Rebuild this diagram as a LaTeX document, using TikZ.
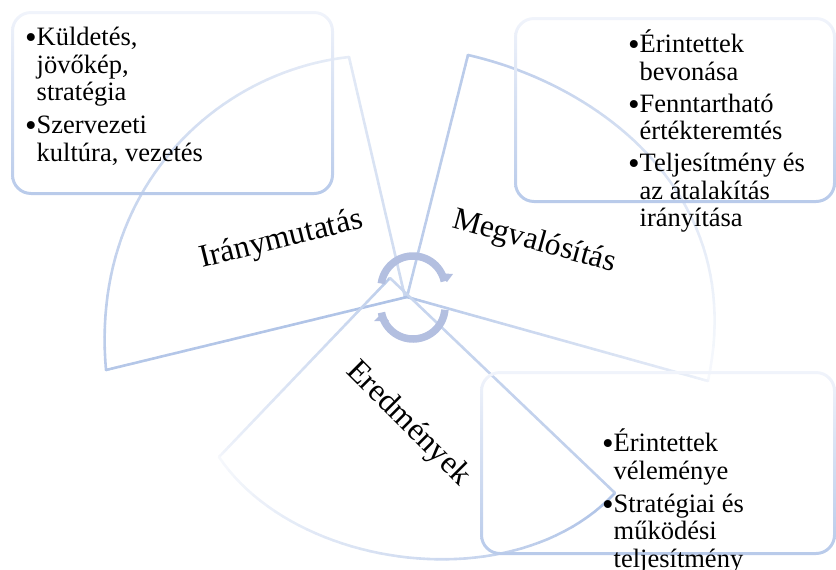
\documentclass[tikz,border=0pt]{standalone}
\usepackage{fontspec}
\setmainfont{Liberation Serif}
\definecolor{secblue}{HTML}{AEC2E6}
\definecolor{arrowblue}{HTML}{B3BFE0}
\definecolor{boxtop}{HTML}{F1F4FB}
\definecolor{boxmid}{HTML}{D3DEF2}
\definecolor{boxbot}{HTML}{B8CAEA}
\newcommand\bodyfont{\fontsize{26.5}{27.5}\selectfont}
\newcommand\bul{\makebox[11.5pt][l]{\raisebox{-2.6pt}{\scalebox{1.25}{\textbullet}}}}
\newcommand\con{\hspace*{11.5pt}}
% gradient-stroked cubic: 8 coordinates, start %, end %
\newcommand\gradcurve[2]{\gradcurveB#1;#2;}
\def\gradcurveB#1,#2,#3,#4,#5,#6,#7,#8;#9;{%
  \def\gcA{#1}\def\gcB{#2}\def\gcC{#3}\def\gcD{#4}\def\gcE{#5}\def\gcF{#6}\def\gcG{#7}\def\gcH{#8}%
  \gradcurveE#9;}
\def\gradcurveE#1,#2;{%
  \foreach \i in {1,...,48}{%
    \pgfmathsetmacro\ta{(\i-1)/48}\pgfmathsetmacro\tb{\i/48}%
    \pgfmathsetmacro\pc{#1+(#2-#1)*(\i-0.5)/48}%
    \pgfmathsetmacro\xa{(1-\ta)^3*\gcA+3*(1-\ta)^2*\ta*\gcC+3*(1-\ta)*\ta^2*\gcE+\ta^3*\gcG}%
    \pgfmathsetmacro\ya{(1-\ta)^3*\gcB+3*(1-\ta)^2*\ta*\gcD+3*(1-\ta)*\ta^2*\gcF+\ta^3*\gcH}%
    \pgfmathsetmacro\xb{(1-\tb)^3*\gcA+3*(1-\tb)^2*\tb*\gcC+3*(1-\tb)*\tb^2*\gcE+\tb^3*\gcG}%
    \pgfmathsetmacro\yb{(1-\tb)^3*\gcB+3*(1-\tb)^2*\tb*\gcD+3*(1-\tb)*\tb^2*\gcF+\tb^3*\gcH}%
    \draw[secline,color=secblue!\pc!white] (\xa,\ya) -- (\xb,\yb);
  }}
% straight gradient line
\newcommand\gradline[6]{\gradcurve{#1,#2,#1,#2,#3,#4,#3,#4}{#5,#6}}
% rounded box with vertical gradient outline
\newcommand\gradbox[4]{%
  \begin{scope}[even odd rule]
    \clip[rounded corners=20pt] (#1,#2) rectangle (#3,#4)
      [rounded corners=17pt] (#1+3,#2+3) rectangle (#3-3,#4-3);
    \shade[top color=boxtop,bottom color=boxbot,middle color=boxmid] (#1-1,#2-1) rectangle (#3+1,#4+1);
  \end{scope}}
\tikzset{
  secline/.style={line width=2.6pt,line cap=round},
  turn/.style={line width=7.5pt,color=arrowblue},
  turnhead/.style={fill=arrowblue,draw=none},
  seclabel/.style={font=\fontsize{32}{36}\selectfont,inner sep=0pt,anchor=base west},
  bodytext/.style={font=\bodyfont,inner sep=0pt,anchor=north west,align=left},
}
\begin{document}
\begin{tikzpicture}[x=1pt,y=-1pt]
\useasboundingbox (0,0) rectangle (836,570);
% sectors
\gradline{349}{57}{405}{297}{30}{65}
\gradcurve{349,57,215,72,90,190,106,370}{30,85}
\gradline{106}{370}{407}{297}{90}{100}
\gradline{468}{55}{407}{297}{85}{80}
\gradcurve{468,55,600,85,748,195,708,381}{85,10}
\gradline{708}{381}{407}{297}{15}{100}
\gradline{219}{457}{390}{278}{10}{90}
\gradcurve{219,457,295,570,515,600,615,493}{10,100}
\gradline{615}{493}{390}{278}{80}{65}
% boxes
\gradbox{11}{11}{334}{195}
\gradbox{514}{17}{836}{203}
\gradbox{480}{371}{836}{555}
% circular arrows
\draw[turn] plot[domain=172:12,samples=40] ({413+32*cos(\x)},{288-32*sin(\x)});
\fill[turnhead] (447,282) -- (437,273) -- (453,274) -- cycle;
\draw[turn] plot[domain=355:190,samples=40] ({413+32*cos(\x)},{307-32*sin(\x)});
\fill[turnhead] (382,313) -- (374,321) -- (389,321) -- cycle;
% labels
\node[seclabel,rotate=14] (iranymutatas) at (202,268) {Iránymutatás};
\node[seclabel,rotate=-15.5,font=\fontsize{31.5}{36}\selectfont] (megvalositas) at (451,227) {Megvalósítás};
\node[seclabel,rotate=-45] (eredmenyek) at (345,372) {Eredmények};
% texts
\node[bodytext] (t1) at (25,27) {\bul Küldetés,\\\con jövőkép,\\\con stratégia\\[5.5pt]\bul Szervezeti\\\con kultúra, vezetés};
\node[bodytext] (t2) at (628,30) {\bul Érintettek\\\con bevonása\\[4.5pt]\bul Fenntartható\\\con értékteremtés\\[4.5pt]\bul Teljesítmény és\\\con az átalakítás\\\con irányítása};
\node[bodytext] (t3) at (602,429) {\bul Érintettek\\\con véleménye\\[5.5pt]\bul Stratégiai és\\\con működési\\\con teljesítmény};
\end{tikzpicture}
\end{document}
